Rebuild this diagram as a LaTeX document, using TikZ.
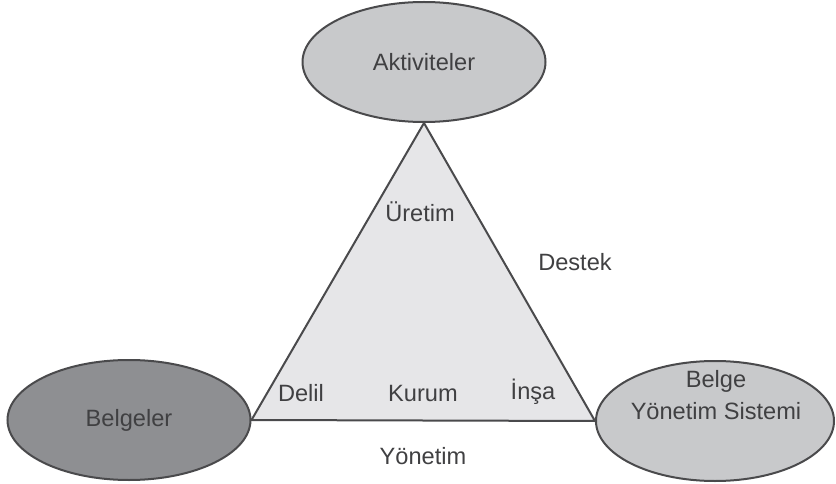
\documentclass[tikz,border=0pt]{standalone}
\usepackage{fontspec}
\setmainfont{Liberation Sans}
\usepackage{xcolor}
\usetikzlibrary{shapes.geometric,backgrounds}
\definecolor{edgegray}{HTML}{4A4A4C}
\definecolor{textgray}{HTML}{404042}
\definecolor{lightblob}{HTML}{C8C9CB}
\definecolor{darkblob}{HTML}{8E8F92}
\definecolor{trifill}{HTML}{E6E6E8}
\tikzset{
  blob/.style={ellipse, draw=edgegray, line width=2pt, inner sep=0pt,
    minimum width=243pt, minimum height=120pt, text=textgray, align=center,
    font=\fontsize{23.6}{30}\selectfont},
  tag/.style={inner sep=0pt, text=textgray, font=\fontsize{23.6}{30}\selectfont}
}
\begin{document}
\begin{tikzpicture}[x=1pt,y=-1pt]
\useasboundingbox (0,0) rectangle (836,484);
% corners
\node[blob, fill=lightblob] (akt) at (424,62) {Aktiviteler};
\node[blob, fill=darkblob] (belgeler) at (129,420) {Belgeler};
\node[blob, fill=lightblob, minimum width=238pt] (bys) at (715,421) {};
\node[tag] (bys1) at (716,381) {Belge};
\node[tag] (bys2) at (716,411) {Yönetim Sistemi};
% triangle
\begin{scope}[on background layer]
\draw[edgegray, line width=2pt, fill=trifill, line join=round]
  (akt.south) -- (bys.west) -- (belgeler.east) -- cycle;
\end{scope}
% labels
\node[tag] (uretim) at (420,212) {Üretim};
\node[tag] (destek) at (575,262) {Destek};
\node[tag] (delil) at (301,393) {Delil};
\node[tag] (kurum) at (423,393) {Kurum};
\node[tag] (insa) at (533,392) {İnşa};
\node[tag] (yonetim) at (423,456) {Yönetim};
\end{tikzpicture}
\end{document}
